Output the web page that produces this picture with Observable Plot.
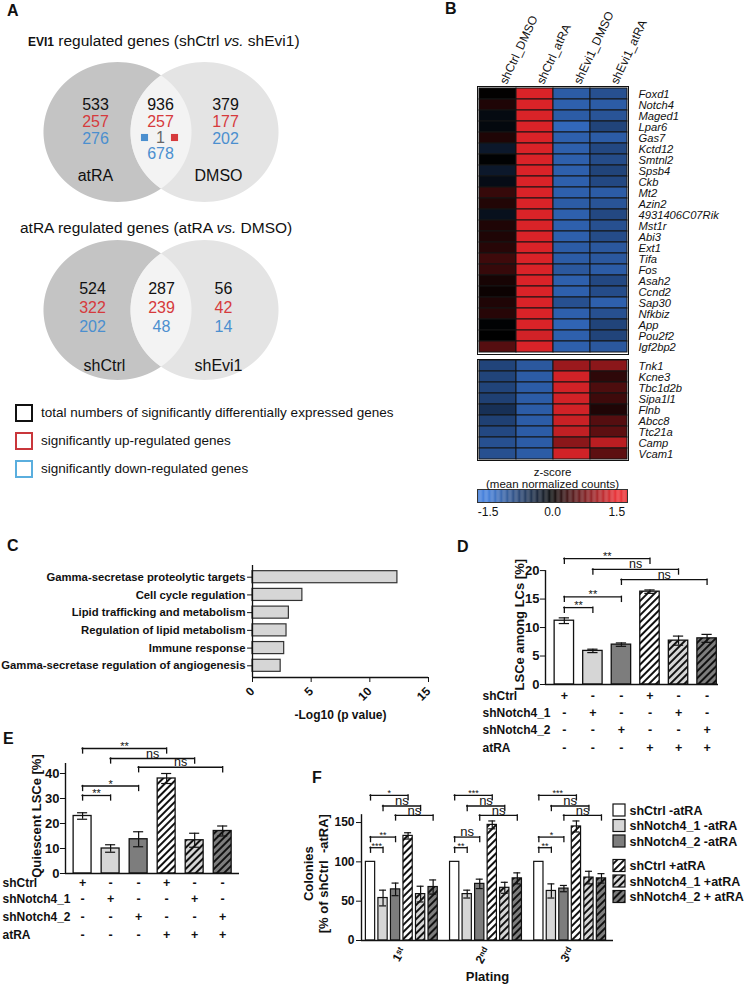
<!DOCTYPE html>
<html><head><meta charset="utf-8">
<script src="https://cdn.jsdelivr.net/npm/d3@7"></script>
<script src="https://cdn.jsdelivr.net/npm/@observablehq/plot@0.6"></script>
<style>
body{margin:0;background:#fff}
#root{position:relative;width:744px;height:987px;overflow:hidden;background:#fff;font-family:"Liberation Sans",Arial,Helvetica,sans-serif;color:#111}
</style></head><body>
<svg width="0" height="0" style="position:absolute">
<defs>
<pattern id="hatchW" patternUnits="userSpaceOnUse" width="5" height="5" patternTransform="rotate(45)"><rect width="5" height="5" fill="#ffffff"/><line x1="1" y1="0" x2="1" y2="5" stroke="#111" stroke-width="2"/></pattern>
<pattern id="hatchL" patternUnits="userSpaceOnUse" width="5" height="5" patternTransform="rotate(45)"><rect width="5" height="5" fill="#d6d6d6"/><line x1="1" y1="0" x2="1" y2="5" stroke="#111" stroke-width="2"/></pattern>
<pattern id="hatchD" patternUnits="userSpaceOnUse" width="5" height="5" patternTransform="rotate(45)"><rect width="5" height="5" fill="#7d7d7d"/><line x1="1" y1="0" x2="1" y2="5" stroke="#111" stroke-width="2"/></pattern>
</defs></svg>
<div id="root"></div>
<script>
// ---------------- DATA ----------------
// Panel A
const evi1Regions = ["atRA", "DMSO"];
const evi1Total = [533, 936, 379];
const evi1Up = [257, 257, 177];
const evi1Down = [276, 678, 202];
const evi1Opposite = 1;
const atraRegions = ["shCtrl", "shEvi1"];
const atraTotal = [524, 287, 56];
const atraUp = [322, 239, 42];
const atraDown = [202, 48, 14];
const legendAText = ["total numbers of significantly differentially expressed genes", "significantly up-regulated genes", "significantly down-regulated genes"];

// Panel B
const hmCols = ["shCtrl_DMSO", "shCtrl_atRA", "shEvi1_DMSO", "shEvi1_atRA"];
const upGenes = ["Foxd1","Notch4","Maged1","Lpar6","Gas7","Kctd12","Smtnl2","Spsb4","Ckb","Mt2","Azin2","4931406C07Rik","Mst1r","Abi3","Ext1","Tifa","Fos","Asah2","Ccnd2","Sap30","Nfkbiz","App","Pou2f2","Igf2bp2"];
const upCtrlDMSO = [0.02,0.2,-0.12,-0.1,0.2,-0.3,-0.02,-0.3,-0.15,0.35,0.22,-0.2,0.2,0.2,0.25,0.4,0.35,0.15,0.08,0.2,0.25,-0.03,0.0,0.55];
const upCtrlAtra = [1.4,1.4,1.4,1.4,1.4,1.4,1.4,1.4,1.4,1.4,1.4,1.4,1.4,1.4,1.4,1.4,1.4,1.4,1.4,1.4,1.4,1.4,1.35,1.4];
const upEviDMSO = [-1.15,-1.2,-1.15,-1.3,-1.2,-1.2,-1.2,-1.2,-1.2,-1.2,-1.15,-1.2,-1.2,-1.2,-1.15,-1.15,-1.1,-1.2,-1.2,-1.0,-1.2,-1.25,-1.2,-1.2];
const upEviAtra = [-1.0,-1.15,-1.05,-0.85,-1.15,-0.9,-0.95,-0.85,-0.9,-1.15,-1.05,-0.9,-1.0,-0.95,-1.1,-1.1,-1.15,-0.9,-0.95,-1.2,-1.0,-0.85,-0.85,-1.1];
const downGenes = ["Tnk1","Kcne3","Tbc1d2b","Sipa1l1","Flnb","Abcc8","Ttc21a","Camp","Vcam1"];
const downCtrlDMSO = [-0.85,-0.85,-0.85,-0.8,-0.6,-0.8,-0.9,-1.0,-1.0];
const downCtrlAtra = [-1.1,-1.15,-1.15,-1.15,-1.15,-1.15,-1.15,-1.15,-1.15];
const downEviDMSO = [1.0,1.35,1.35,1.35,1.35,1.3,1.25,0.9,1.35];
const downEviAtra = [0.9,0.3,0.5,0.4,0.2,0.55,0.6,1.2,0.6];
const zTicks = [-1.5, 0, 1.5];

// Panel C
const cTerms = ["Gamma-secretase proteolytic targets","Cell cycle regulation","Lipid trafficking and metabolism","Regulation of lipid metabolism","Immune response","Gamma-secretase regulation of angiogenesis"];
const cLogP = [12.35, 4.25, 3.1, 2.9, 2.7, 2.4];
const cTicks = [0, 5, 10, 15];

// Panels D / E conditions
const tableRows = ["shCtrl", "shNotch4_1", "shNotch4_2", "atRA"];
const tableSigns = [["+","-","-","+","-","-"],["-","+","-","-","+","-"],["-","-","+","-","-","+"],["-","-","-","+","+","+"]];
// Panel D
const dLSCe = [11.2, 5.9, 7.0, 16.3, 7.7, 8.1];
const dErr = [0.5, 0.3, 0.3, 0.3, 0.8, 0.7];
const dSig = [{a:1,b:4,y:22.1,t:"**"},{a:2,b:5,y:20.2,t:"ns"},{a:3,b:6,y:18.4,t:"ns"},{a:1,b:3,y:15.4,t:"**"},{a:1,b:2,y:13.5,t:"**"}];
const dTicks = [0, 5, 10, 15, 20];
// Panel E
const eQuiescent = [23, 10, 13.7, 38, 13.3, 17];
const eErr = [1.3, 1.5, 3, 2, 2.8, 2];
const eSig = [{a:1,b:4,y:50,t:"**"},{a:2,b:5,y:46,t:"ns"},{a:3,b:6,y:42.5,t:"ns"},{a:1,b:3,y:35,t:"*"},{a:1,b:2,y:31.2,t:"**"}];
const eTicks = [0, 10, 20, 30, 40];
// Panel F
const fPlating = ["1\u02E2\u1D57", "2\u207F\u1D48", "3\u02B3\u1D48"];
const fSeries = ["shCtrl -atRA","shNotch4_1 -atRA","shNotch4_2 -atRA","shCtrl +atRA","shNotch4_1 +atRA","shNotch4_2 + atRA"];
const fColonies = [[100,54,65,133,59,68],[100,59,72,147,67,79],[100,63,66,145,80,79]];
const fErr = [[0,10,8,4,10,9],[0,5,6,5,7,7],[0,9,4,7,8,6]];
const fSigPairs = [[0,3,184.5],[1,4,171],[2,5,159],[0,2,131.5],[0,1,118]];
const fSigLabels = [["*","ns","ns","**","***"],["***","ns","ns","ns","**"],["***","ns","ns","*","**"]];
const fTicks = [0, 50, 100, 150];

// ---------------- STYLE ----------------
const FONT = '"Liberation Sans", Arial, Helvetica, sans-serif';
const barFills = ["#ffffff", "#d6d6d6", "#7d7d7d", "url(#hatchW)", "url(#hatchL)", "url(#hatchD)"];
const RED = "#d63a3c", BLUE = "#4b8fcf";
const legendAColors = ["#111111", "#c9363b", "#5aaede"];
const zRange = ["#3a78d8", "#000000", "#e8262b"];
function st(extra) { return Object.assign({fontFamily: FONT, fontSize: "12px", background: "transparent", overflow: "visible", color: "#111"}, extra || {}); }

const root = document.getElementById("root");
function place(node, left, top) { node.style.position = "absolute"; node.style.left = left + "px"; node.style.top = top + "px"; root.appendChild(node); return node; }
function html(str, left, top, css) { const d = document.createElement("div"); d.innerHTML = str; d.style.cssText = css || ""; return place(d, left, top); }

// panel letters
[["A",7,3],["B",445,1],["C",7,538],["D",457,539],["E",3,731],["F",312,770]].forEach(([t,x,y]) => html(t, x, y, "font-weight:bold;font-size:16px;line-height:1"));

// ---------------- PANEL A ----------------
html('<b style="font-size:12px">EVI1</b> regulated genes (shCtrl <i>vs.</i> shEvi1)', 28, 33, "font-size:15.5px;line-height:1;white-space:nowrap");
html('atRA regulated genes (atRA <i>vs.</i> DMSO)', 20, 220, "font-size:15.5px;line-height:1;white-space:nowrap");

function vennPlot({height, cy, cols, rows, downRows, labelY, labelX, regions, total, up, down, opposite}) {
  const L = {cx: 117.5, rx: 74, ry: 70}, R = {cx: 204.5, rx: 74, ry: 70};
  const half = (e, dy) => e.rx * Math.sqrt(Math.max(0, 1 - (dy / e.ry) ** 2));
  const dys = d3.range(-70, 70.001, 0.5);
  const left = dys.map(dy => ({y: cy + dy, x1: L.cx - half(L, dy), x2: L.cx + half(L, dy)}));
  const right = dys.map(dy => ({y: cy + dy, x1: R.cx - half(R, dy), x2: R.cx + half(R, dy)}));
  const lens = dys.map(dy => ({y: cy + dy, x1: R.cx - half(R, dy), x2: L.cx + half(L, dy)})).filter(d => d.x1 <= d.x2);
  const marks = [
    Plot.areaX(left, {y: "y", x1: "x1", x2: "x2", fill: "#c4c4c4"}),
    Plot.areaX(right, {y: "y", x1: "x1", x2: "x2", fill: "#e4e4e4"}),
    Plot.areaX(lens, {y: "y", x1: "x1", x2: "x2", fill: "#f3f3f3"}),
    Plot.text(total, {x: (d, i) => cols[i], y: () => rows[0], text: d => String(d), fill: "#111", fontSize: 16}),
    Plot.text(up, {x: (d, i) => cols[i], y: () => rows[1], text: d => String(d), fill: RED, fontSize: 16}),
    Plot.text(down, {x: (d, i) => cols[i], y: (d, i) => downRows[i], text: d => String(d), fill: BLUE, fontSize: 16}),
    Plot.text(regions, {x: (d, i) => labelX[i], y: () => labelY, text: d => d, fill: "#111", fontSize: 16})
  ];
  if (opposite != null) {
    marks.push(Plot.text([opposite], {x: () => cols[1], y: () => rows[2], text: d => String(d), fill: "#666", fontSize: 16}));
    marks.push(Plot.dot([BLUE], {x: () => cols[1] - 16, y: () => rows[2], symbol: "square", r: 4, fill: d => d, stroke: null}));
    marks.push(Plot.dot([RED], {x: () => cols[1] + 14, y: () => rows[2], symbol: "square", r: 4, fill: d => d, stroke: null}));
  }
  return Plot.plot({width: 380, height, margin: 0, x: {domain: [0, 380], axis: null}, y: {domain: [0, height], range: [0, height], axis: null},
    color: {type: "identity"}, style: st(), marks});
}
place(vennPlot({height: 160, cy: 77, cols: [95, 160, 225], rows: [49, 66, 82], downRows: [83, 98, 83], labelY: 120, labelX: [95, 218],
  regions: evi1Regions, total: evi1Total, up: evi1Up, down: evi1Down, opposite: evi1Opposite}), 0, 55);
place(vennPlot({height: 150, cy: 75, cols: [92, 161, 223], rows: [53, 72, 91], downRows: [91, 91, 91], labelY: 130, labelX: [104, 218],
  regions: atraRegions, total: atraTotal, up: atraUp, down: atraDown, opposite: null}), 0, 235);

legendAText.forEach((t, i) => {
  const cy = 413 + i * 28;
  html("", 15, cy - 9, `width:18px;height:18px;box-sizing:border-box;border:2.5px solid ${legendAColors[i]}`);
  html(t, 41, cy - 9, "font-size:13.5px;line-height:18px;white-space:nowrap");
});

// ---------------- PANEL B ----------------
const zColor = {type: "linear", domain: [-1.5, 0, 1.5], range: zRange, interpolate: "rgb", clamp: true};
function cellsOf(genes, cols) { return genes.flatMap((g, i) => hmCols.map((c, j) => ({gene: g, col: c, z: cols[j][i]}))); }
function heatPlot(genes, cells, {height, marginTop, marginBottom, showCols}) {
  return Plot.plot({width: 354, height, marginLeft: 87, marginRight: 116, marginTop, marginBottom,
    x: {domain: hmCols, padding: 0, axis: null}, y: {domain: genes, padding: 0, axis: null},
    color: zColor, style: st(),
    marks: [
      Plot.cell(cells, {x: "col", y: "gene", fill: "z", stroke: "#151515", strokeWidth: 1}),
      Plot.text(genes, {y: d => d, text: d => d, frameAnchor: "right", textAnchor: "start", dx: 10, fontStyle: "italic", fontSize: 11.2}),
      showCols ? Plot.text(hmCols, {x: d => d, text: d => d, frameAnchor: "top", rotate: -65, textAnchor: "start", dy: -5, dx: 1, fontSize: 12}) : null,
      Plot.frame({stroke: "#111", strokeWidth: 1})
    ]});
}
place(heatPlot(upGenes, cellsOf(upGenes, [upCtrlDMSO, upCtrlAtra, upEviDMSO, upEviAtra]), {height: 360, marginTop: 86, marginBottom: 6, showCols: true}), 390, 0);
place(heatPlot(downGenes, cellsOf(downGenes, [downCtrlDMSO, downCtrlAtra, downEviDMSO, downEviAtra]), {height: 109, marginTop: 4, marginBottom: 4, showCols: false}), 390, 355);

const ramp = d3.range(-1.75, 1.75, 0.02);
place(Plot.plot({width: 354, height: 66, marginLeft: 87, marginRight: 117, marginTop: 31, marginBottom: 22,
  x: {domain: [-1.75, 1.75], ticks: zTicks, tickFormat: d => d.toFixed(1), tickSize: 0, tickPadding: 5, label: null},
  y: {domain: [0, 1], axis: null}, color: zColor, style: st(),
  marks: [
    Plot.rect(ramp, {x1: d => d, x2: d => d + 0.021, y1: () => 0, y2: () => 1, fill: d => d + 0.01}),
    Plot.frame({stroke: "#333"}),
    Plot.text(["z-score"], {frameAnchor: "top", dy: -22, fontSize: 11.5}),
    Plot.text(["(mean normalized counts)"], {frameAnchor: "top", dy: -9.5, fontSize: 11.5})
  ]}), 390, 458);

// ---------------- PANEL C ----------------
const cRows = cTerms.map((t, i) => ({term: t, v: cLogP[i], i}));
place(Plot.plot({width: 440, height: 175, marginLeft: 252, marginRight: 12, marginTop: 10, marginBottom: 53,
  x: {domain: [0, 15], ticks: cTicks, tickRotate: -45, tickSize: 5, label: null},
  y: {domain: [-0.66, 5.66], reverse: true, axis: null},
  style: st({fontWeight: "bold", fontSize: "12px"}),
  marks: [
    Plot.rect(cRows, {x1: () => 0, x2: "v", y1: d => d.i - 0.34, y2: d => d.i + 0.34, fill: "#d6d6d6", stroke: "#333", strokeWidth: 1.2}),
    Plot.ruleY(cRows, {y: "i", x1: () => -0.42, x2: () => 0, stroke: "#111"}),
    Plot.text(cRows, {y: "i", x: () => 0, text: "term", textAnchor: "end", dx: -7, fontSize: 11.3}),
    Plot.ruleX([0], {stroke: "#111", strokeWidth: 1.3}),
    Plot.ruleY([5.66], {x1: () => 0, x2: () => 15, stroke: "#111", strokeWidth: 1.3}),
    Plot.text(["-Log10 (p value)"], {frameAnchor: "bottom", dy: 41, fontSize: 12})
  ]}), 0, 555);

// ---------------- PANELS D / E ----------------
function bracketMarks(br, tick, starDy, nsDy, starSize, nsSize) {
  const line = {stroke: "#111", strokeWidth: 1.3, strokeLinecap: "square"};
  return [
    Plot.ruleY(br, {y: "y", x1: "a", x2: "b", ...line}),
    Plot.ruleX(br, {x: "a", y1: d => d.y - tick, y2: "y", ...line}),
    Plot.ruleX(br, {x: "b", y1: d => d.y - tick, y2: "y", ...line}),
    Plot.text(br.filter(d => d.t !== "ns"), {x: d => (d.a + d.b) / 2, y: "y", text: "t", dy: starDy, fontSize: starSize, fontWeight: "normal", fill: "#111"}),
    Plot.text(br.filter(d => d.t === "ns"), {x: d => (d.a + d.b) / 2, y: "y", text: "t", dy: nsDy, fontSize: nsSize, fontWeight: "normal", fill: "#111"})
  ];
}
function errorMarks(rows, capHalf) {
  const e = rows.filter(d => d.e > 0), line = {stroke: "#111", strokeWidth: 1.2};
  return [
    Plot.ruleX(e, {x: "x", y1: d => d.v - d.e, y2: d => d.v + d.e, ...line}),
    Plot.ruleY(e, {y: d => d.v + d.e, x1: d => d.x - capHalf, x2: d => d.x + capHalf, ...line}),
    Plot.ruleY(e, {y: d => d.v - d.e, x1: d => d.x - capHalf, x2: d => d.x + capHalf, ...line})
  ];
}
function barChart(o) {
  const rows = o.vals.map((v, i) => ({x: i + 1, v, e: o.errs[i], fill: barFills[i]}));
  const marks = [
    Plot.rect(rows, {x1: d => d.x - o.halfW, x2: d => d.x + o.halfW, y1: () => 0, y2: "v", fill: "fill", stroke: "#111", strokeWidth: 1.3}),
    ...errorMarks(rows, o.capHalf),
    Plot.ruleX([o.xDomain[0]], {y1: () => 0, y2: () => o.axisTop, stroke: "#111", strokeWidth: 1.4}),
    Plot.ruleY([0], {x1: () => o.xDomain[0], x2: () => o.xDomain[1], stroke: "#111", strokeWidth: 1.4}),
    ...bracketMarks(o.sig, o.tick, -2, -5, 11, 12.5),
    Plot.text([o.yTitle], {x: () => o.xDomain[0], y: () => o.titleY, rotate: -90, dx: o.titleDx, fontSize: 13})
  ];
  tableRows.forEach((name, r) => {
    marks.push(Plot.text(rows, {x: "x", text: d => tableSigns[r][d.x - 1], frameAnchor: "bottom", dy: o.tableDy[r], fontSize: 12.5}));
    marks.push(Plot.text([name], {x: () => o.xDomain[0], frameAnchor: "bottom", textAnchor: "start", dx: o.labelDx, dy: o.tableDy[r], fontSize: 12}));
  });
  return Plot.plot({width: o.width, height: o.height, marginLeft: o.marginLeft, marginRight: o.marginRight, marginTop: o.marginTop, marginBottom: o.marginBottom,
    x: {domain: o.xDomain, axis: null}, y: {domain: o.yDomain, ticks: o.yTicks, tickSize: 5, tickPadding: 1, label: null},
    color: {type: "identity"}, style: st({fontWeight: "bold", fontSize: "13px"}), marks});
}
place(barChart({vals: dLSCe, errs: dErr, sig: dSig, width: 298, height: 220, marginLeft: 105, marginRight: 20, marginTop: 8, marginBottom: 81,
  xDomain: [0.34, 6.4], yDomain: [0, 23], yTicks: dTicks, axisTop: 20, halfW: 0.34, capHalf: 0.18, tick: 0.9,
  yTitle: "LSCe among LCs [%]", titleY: 10.5, titleDx: -26, labelDx: -63, tableDy: [15, 32, 49, 67]}), 440, 545);
place(barChart({vals: eQuiescent, errs: eErr, sig: eSig, width: 249, height: 211, marginLeft: 65, marginRight: 10, marginTop: 8, marginBottom: 73,
  xDomain: [0.39, 6.6], yDomain: [0, 52], yTicks: eTicks, axisTop: 44, halfW: 0.32, capHalf: 0.18, tick: 2,
  yTitle: "Quiescent LSCe [%]", titleY: 23, titleDx: -29, labelDx: -63, tableDy: [13, 29, 47, 65]}), 0, 735);

// ---------------- PANEL F ----------------
const GAP = 6.72;
const fRows = fColonies.flatMap((g, gi) => g.map((v, j) => ({x: gi * GAP + j, v, e: fErr[gi][j], fill: barFills[j]})));
const fBr = fSigLabels.flatMap((labs, gi) => fSigPairs.map((p, k) => ({a: gi * GAP + p[0], b: gi * GAP + p[1], y: p[2], t: labs[k]})));
place(Plot.plot({width: 337, height: 209, marginLeft: 81, marginRight: 4, marginTop: 11, marginBottom: 47,
  x: {domain: [-0.72, 19.4], axis: null}, y: {domain: [0, 192], ticks: fTicks, tickSize: 5, tickPadding: 2, label: null},
  color: {type: "identity"}, style: st({fontWeight: "bold", fontSize: "12px"}),
  marks: [
    Plot.rect(fRows, {x1: d => d.x - 0.37, x2: d => d.x + 0.37, y1: () => 0, y2: "v", fill: "fill", stroke: "#111", strokeWidth: 1.2}),
    ...errorMarks(fRows, 0.28),
    Plot.ruleX([-0.72], {y1: () => 0, y2: () => 160, stroke: "#111", strokeWidth: 1.4}),
    Plot.ruleY([0], {x1: () => -0.72, x2: () => 19.4, stroke: "#111", strokeWidth: 1.4}),
    ...bracketMarks(fBr, 6.4, -2, -5, 9, 13),
    Plot.text(fPlating, {x: (d, i) => i * GAP + 2.5, frameAnchor: "bottom", rotate: -60, textAnchor: "end", dx: 4, dy: 10, fontSize: 12}),
    Plot.text(["Plating"], {frameAnchor: "bottom", dy: 40, fontSize: 13}),
    Plot.text(["Colonies"], {x: () => -0.72, y: () => 85, rotate: -90, dx: -53, fontSize: 13}),
    Plot.text(["[% of shCtrl  -atRA]"], {x: () => -0.72, y: () => 85, rotate: -90, dx: -38, fontSize: 13})
  ]}), 280, 778);

// legend F
const fLeg = fSeries.map((s, i) => ({s, fill: barFills[i], y: 10 + i * 15.5 + (i >= 3 ? 9 : 0)}));
place(Plot.plot({width: 132, height: 105, margin: 0, x: {domain: [0, 132], axis: null}, y: {domain: [0, 105], range: [0, 105], axis: null},
  color: {type: "identity"}, style: st({fontWeight: "bold", fontSize: "12.5px"}),
  marks: [
    Plot.rect(fLeg, {x1: () => 1, x2: () => 13, y1: d => d.y - 6, y2: d => d.y + 6, fill: "fill", stroke: "#111", strokeWidth: 1.2}),
    Plot.text(fLeg, {x: () => 17, y: "y", text: "s", textAnchor: "start"})
  ]}), 612, 800);
</script>
</body></html>
